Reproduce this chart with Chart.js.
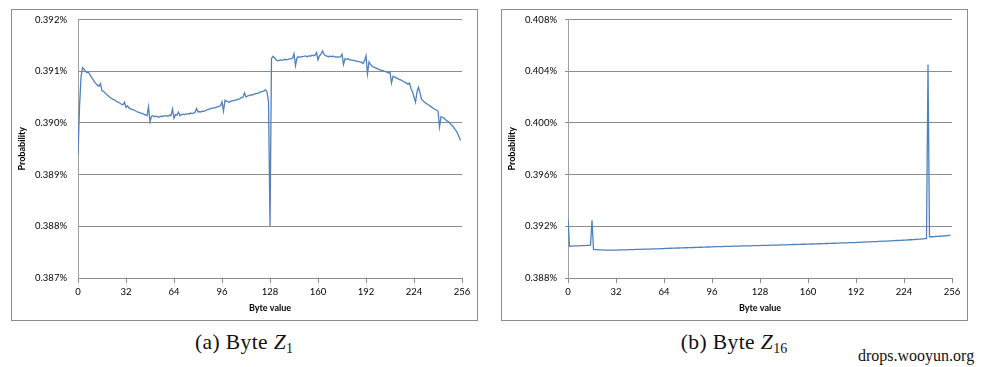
<!DOCTYPE html>
<html>
<head>
<meta charset="utf-8">
<script src="https://cdn.jsdelivr.net/npm/chart.js@4.4.1/dist/chart.umd.min.js"></script>
<style>
  body { margin: 0; background: #fff; width: 984px; height: 367px; position: relative; overflow: hidden; }
  .box { position: absolute; top: 9px; width: 465px; height: 310px; border: 1px solid #8c8c8c; }
  #boxA { left: 11px; }
  #boxB { left: 501px; }
  .cap { position: absolute; top: 329px; width: 240px; text-align: center; font-family: "Liberation Serif", serif; font-size: 21.5px; letter-spacing: 0.4px; line-height: 26px; color: #111; }
  .cap sub { font-size: 14px; vertical-align: -4px; line-height: 0; letter-spacing: 0; }
  #capA { left: 124px; }
  #capB { left: 614px; }
  #mark { position: absolute; left: 858px; top: 347px; font-family: "Liberation Serif", serif; font-size: 16px; color: #111; }
</style>
</head>
<body>
<div class="box" id="boxA"><canvas id="chartA" width="465" height="310"></canvas></div>
<div class="box" id="boxB"><canvas id="chartB" width="465" height="310"></canvas></div>
<div class="cap" id="capA">(a) Byte <i>Z</i><sub>1</sub></div>
<div class="cap" id="capB">(b) Byte <i>Z</i><sub>16</sub></div>
<div id="mark">drops.wooyun.org</div>
<script>
// probabilities in percent, one value per byte 0..255
const byteValues = Array.from({ length: 256 }, (_, i) => i);

const probZ1 = [
  0.38940,0.39030,0.39088,0.39107,0.39104,0.39100,0.39097,0.39098,0.39093,0.39088,0.39084,0.39079,0.39076,0.39073,0.39071,0.39076,
  0.39062,0.39061,0.39058,0.39055,0.39053,0.39050,0.39048,0.39046,0.39045,0.39043,0.39041,0.39040,0.39038,0.39036,0.39035,0.39040,
  0.39030,0.39033,0.39029,0.39027,0.39026,0.39025,0.39024,0.39022,0.39021,0.39020,0.39019,0.39018,0.39017,0.39015,0.39014,0.39031,
  0.39002,0.39013,0.39014,0.39012,0.39013,0.39012,0.39011,0.39013,0.39012,0.39014,0.39013,0.39014,0.39013,0.39015,0.39014,0.39027,
  0.39009,0.39016,0.39015,0.39021,0.39014,0.39016,0.39017,0.39016,0.39017,0.39018,0.39017,0.39019,0.39018,0.39019,0.39020,0.39028,
  0.39021,0.39022,0.39021,0.39023,0.39022,0.39024,0.39025,0.39026,0.39027,0.39028,0.39029,0.39029,0.39030,0.39031,0.39032,0.39033,
  0.39041,0.39023,0.39044,0.39042,0.39041,0.39040,0.39042,0.39043,0.39043,0.39044,0.39045,0.39046,0.39047,0.39049,0.39050,0.39058,
  0.39050,0.39052,0.39053,0.39054,0.39054,0.39055,0.39056,0.39057,0.39057,0.39059,0.39060,0.39061,0.39062,0.39064,0.39060,0.39041,
  0.38800,0.39124,0.39129,0.39126,0.39122,0.39120,0.39121,0.39122,0.39121,0.39122,0.39123,0.39122,0.39123,0.39124,0.39124,0.39125,
  0.39134,0.39111,0.39126,0.39128,0.39127,0.39128,0.39128,0.39129,0.39129,0.39128,0.39130,0.39129,0.39131,0.39130,0.39131,0.39136,
  0.39122,0.39130,0.39133,0.39139,0.39133,0.39130,0.39129,0.39128,0.39129,0.39128,0.39129,0.39128,0.39127,0.39128,0.39127,0.39128,
  0.39133,0.39113,0.39124,0.39123,0.39124,0.39122,0.39122,0.39121,0.39121,0.39120,0.39119,0.39119,0.39118,0.39117,0.39115,0.39120,
  0.39130,0.39095,0.39118,0.39113,0.39110,0.39108,0.39107,0.39106,0.39104,0.39103,0.39102,0.39101,0.39100,0.39099,0.39098,0.39097,
  0.39098,0.39077,0.39090,0.39089,0.39087,0.39086,0.39084,0.39083,0.39082,0.39080,0.39079,0.39077,0.39075,0.39077,0.39066,0.39060,
  0.39050,0.39040,0.39060,0.39069,0.39058,0.39046,0.39043,0.39040,0.39038,0.39036,0.39034,0.39032,0.39030,0.39028,0.39026,0.39025,
  0.39023,0.38992,0.39012,0.39011,0.39009,0.39006,0.39004,0.39002,0.38999,0.38996,0.38993,0.38989,0.38985,0.38980,0.38973,0.38966
];

const probZ16 = [
  0.39254,0.39046,0.39047,0.39047,0.39048,0.39048,0.39049,0.39049,0.39050,0.39050,0.39051,0.39051,0.39052,0.39052,0.39053,0.39054,
  0.39246,0.39021,0.39020,0.39019,0.39018,0.39018,0.39017,0.39017,0.39016,0.39016,0.39015,0.39015,0.39016,0.39015,0.39015,0.39016,
  0.39016,0.39016,0.39017,0.39017,0.39017,0.39018,0.39018,0.39018,0.39019,0.39019,0.39020,0.39020,0.39020,0.39021,0.39021,0.39021,
  0.39022,0.39022,0.39023,0.39023,0.39023,0.39024,0.39024,0.39024,0.39025,0.39025,0.39026,0.39026,0.39026,0.39027,0.39027,0.39028,
  0.39028,0.39029,0.39029,0.39029,0.39030,0.39030,0.39031,0.39031,0.39031,0.39032,0.39032,0.39033,0.39033,0.39033,0.39034,0.39034,
  0.39035,0.39035,0.39035,0.39036,0.39036,0.39037,0.39037,0.39037,0.39038,0.39038,0.39039,0.39039,0.39039,0.39040,0.39040,0.39041,
  0.39041,0.39041,0.39042,0.39042,0.39042,0.39043,0.39043,0.39043,0.39044,0.39044,0.39044,0.39045,0.39045,0.39045,0.39046,0.39046,
  0.39046,0.39047,0.39047,0.39047,0.39048,0.39048,0.39048,0.39048,0.39049,0.39049,0.39049,0.39050,0.39050,0.39050,0.39051,0.39051,
  0.39051,0.39052,0.39052,0.39052,0.39053,0.39053,0.39053,0.39054,0.39054,0.39054,0.39055,0.39055,0.39055,0.39056,0.39056,0.39056,
  0.39057,0.39057,0.39057,0.39058,0.39058,0.39058,0.39059,0.39059,0.39059,0.39060,0.39060,0.39060,0.39061,0.39061,0.39061,0.39062,
  0.39062,0.39062,0.39063,0.39063,0.39064,0.39064,0.39064,0.39065,0.39065,0.39066,0.39066,0.39066,0.39067,0.39067,0.39068,0.39068,
  0.39068,0.39069,0.39069,0.39070,0.39070,0.39070,0.39071,0.39071,0.39072,0.39072,0.39072,0.39073,0.39073,0.39074,0.39074,0.39074,
  0.39075,0.39075,0.39076,0.39076,0.39077,0.39078,0.39078,0.39079,0.39079,0.39080,0.39080,0.39081,0.39081,0.39082,0.39082,0.39083,
  0.39084,0.39084,0.39085,0.39085,0.39086,0.39086,0.39087,0.39087,0.39088,0.39089,0.39089,0.39090,0.39090,0.39091,0.39091,0.39092,
  0.39093,0.39093,0.39094,0.39095,0.39096,0.39096,0.39097,0.39098,0.39099,0.39099,0.39100,0.39101,0.39102,0.39103,0.39104,0.39105,
  0.40452,0.39118,0.39119,0.39119,0.39120,0.39121,0.39122,0.39122,0.39123,0.39124,0.39125,0.39126,0.39127,0.39128,0.39130,0.39131
];

const xTicks = [0, 32, 64, 96, 128, 160, 192, 224, 256];
const yTicksZ1 = [0.387, 0.388, 0.389, 0.390, 0.391, 0.392];
const yTicksZ16 = [0.388, 0.392, 0.396, 0.400, 0.404, 0.408];

const GRID = '#8c8c8c';
const FONT = 'Lato, "Open Sans", sans-serif';

function makeChart(canvasId, values, yTicks, yTickLen) {
    const points = byteValues.map((b, i) => ({ x: b, y: values[i] }));

    return new Chart(document.getElementById(canvasId), {
        type: 'line',
        data: {
            datasets: [{
                data: points,
                borderColor: '#4f81bd',
                borderWidth: 1.3,
                pointRadius: 0,
                tension: 0,
                fill: false
            }]
        },
        options: {
            responsive: false,
            animation: false,
            layout: { padding: { left: 0, top: 9.5, right: 15, bottom: 7 } },
            plugins: { legend: { display: false }, tooltip: { enabled: false } },
            scales: {
                x: {
                    type: 'linear',
                    min: 0,
                    max: 256,
                    afterBuildTicks: s => { s.ticks = xTicks.map(v => ({ value: v })); },
                    afterFit: s => { s.height = 35; },
                    grid: { drawOnChartArea: false, drawTicks: true, tickLength: 5, color: GRID },
                    border: { display: true, color: GRID },
                    ticks: { color: '#000', padding: 3.5, maxRotation: 0, font: { family: FONT, size: 9.5 } },
                    title: {
                        display: true, text: 'Byte value', color: '#000',
                        padding: { top: 0, bottom: 0 },
                        font: { family: FONT, size: 9, weight: 'bold' }
                    }
                },
                y: {
                    min: yTicks[0],
                    max: yTicks[yTicks.length - 1],
                    afterBuildTicks: s => { s.ticks = yTicks.map(v => ({ value: v })); },
                    // tick padding gets added to the top/bottom overflow, which pushes the plot down; drop it
                    afterFit: s => { s.width = 66; s.paddingTop = 0; s.paddingBottom = 0; },
                    grid: { color: GRID, drawTicks: yTickLen > 0, tickLength: yTickLen },
                    border: { display: true, color: '#a0a0a0' },
                    ticks: {
                        color: '#000',
                        padding: 11 - yTickLen,
                        font: { family: FONT, size: 9.5 },
                        callback: v => v.toFixed(3) + '%'
                    },
                    title: {
                        display: true, text: 'Probability', color: '#000',
                        padding: { top: 5, bottom: 0 },
                        font: { family: FONT, size: 9, weight: 'bold' }
                    }
                }
            }
        }
    });
}

makeChart('chartA', probZ1, yTicksZ1, 0);
makeChart('chartB', probZ16, yTicksZ16, 3);
</script>
</body>
</html>
